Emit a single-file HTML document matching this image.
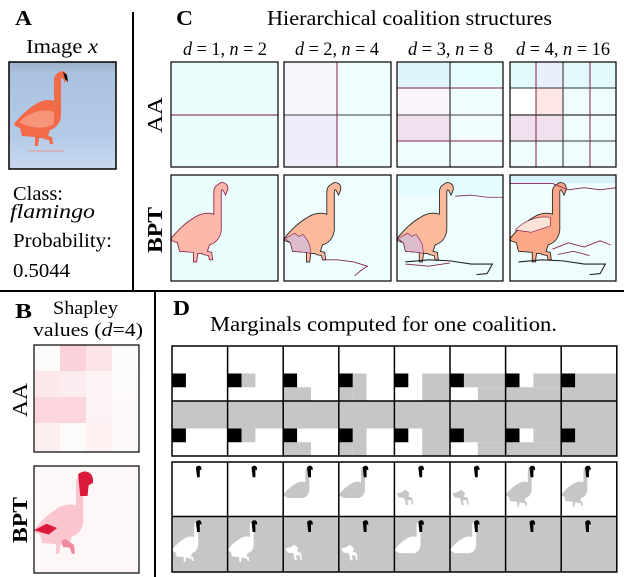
<!DOCTYPE html>
<html><head><meta charset="utf-8"><style>
html,body{margin:0;padding:0;background:#fff;}
svg{display:block;font-family:"Liberation Serif",serif;}
</style></head><body>
<svg width="624" height="577" viewBox="0 0 624 577" xmlns="http://www.w3.org/2000/svg">
<defs>
<path id="fl" d="M44,9 C48,5 54,8 53,14 L51,19 L49,15 C48,13 47,14 47,16 L47,52 C46,60 42,64 36,66 L34,72 L38,73 L39,80 L36,80 L35,76 L30,75 L29,74 L25,74 L24,82 L21,82 L21,73 L8,72 L6,64 L1,62 L0,60 C8,50 15,44 22,40 C28,36 35,35 40,37 L40,16 C40,12 42,10 44,9 Z"/>
<path id="body" d="M44,9 C48,5 52,8 50,12 L47,16 L47,52 C46,60 42,64 36,66 L20,66 L8,66 L6,64 L1,62 L0,60 C8,50 15,44 22,40 C28,36 35,35 40,37 L40,16 C40,12 42,10 44,9 Z"/>
<path id="legs" d="M4,58 L14,55 L20,51 L27,57 L25,63 L32,66 L34,78 L31,78 L30,70 L23,70 L25,79 L21,79 L18,66 L8,65 Z"/>
<path id="head" d="M43,10 C46,5 53,6 53,12 L53,15 L50,14 L50,28 L45,28 Z"/>
<linearGradient id="sky" x1="0" y1="0" x2="0" y2="1">
<stop offset="0" stop-color="#9fb0c8"/><stop offset="0.1" stop-color="#a9c2e0"/><stop offset="0.7" stop-color="#b4cbe8"/><stop offset="1" stop-color="#c9d8ee"/></linearGradient>
</defs>

<line x1="133" y1="12" x2="133" y2="290" stroke="#000" stroke-width="2"/>
<line x1="0" y1="291" x2="624" y2="291" stroke="#000" stroke-width="2"/>
<line x1="155" y1="292" x2="155" y2="577" stroke="#000" stroke-width="2"/>

<!-- Panel A -->
<text x="15" y="25" font-size="21" font-weight="bold" textLength="17" lengthAdjust="spacingAndGlyphs">A</text>
<text x="26" y="53" font-size="20" textLength="72" lengthAdjust="spacingAndGlyphs">Image <tspan font-style="italic">x</tspan></text>
<g transform="translate(9,62)">
<rect width="107" height="107" fill="url(#sky)"/>
<g transform="translate(5,2) scale(1.0)">
<use href="#fl" fill="#f26a48"/>
<path d="M5,58 C15,48 30,44 40,48 L40,60 C30,66 15,64 5,58Z" fill="#f8a890" opacity="0.7"/>
<path d="M49,8 L53,11 L54,18 L51,15Z" fill="#111"/>
<rect x="15" y="86" width="35" height="2" fill="#e0a0a0" opacity="0.6"/>
</g>
<rect width="107" height="107" fill="none" stroke="#000" stroke-width="1.5"/>
</g>
<text x="13" y="200" font-size="20" textLength="50" lengthAdjust="spacingAndGlyphs">Class:</text>
<text x="10" y="218" font-size="20" font-style="italic" textLength="85" lengthAdjust="spacingAndGlyphs">flamingo</text>
<text x="13" y="247" font-size="20" textLength="99" lengthAdjust="spacingAndGlyphs">Probability:</text>
<text x="13" y="277" font-size="20" textLength="57" lengthAdjust="spacingAndGlyphs">0.5044</text>

<!-- Panel C -->
<text x="176" y="25" font-size="21" font-weight="bold" textLength="17" lengthAdjust="spacingAndGlyphs">C</text>
<text x="267" y="25" font-size="21" textLength="285" lengthAdjust="spacingAndGlyphs">Hierarchical coalition structures</text>
<g font-size="19" font-style="italic">
<text x="183" y="55" textLength="84" lengthAdjust="spacingAndGlyphs">d<tspan font-style="normal"> = 1, </tspan>n<tspan font-style="normal"> = 2</tspan></text>
<text x="295" y="55" textLength="84" lengthAdjust="spacingAndGlyphs">d<tspan font-style="normal"> = 2, </tspan>n<tspan font-style="normal"> = 4</tspan></text>
<text x="408" y="55" textLength="85" lengthAdjust="spacingAndGlyphs">d<tspan font-style="normal"> = 3, </tspan>n<tspan font-style="normal"> = 8</tspan></text>
<text x="516" y="55" textLength="94" lengthAdjust="spacingAndGlyphs">d<tspan font-style="normal"> = 4, </tspan>n<tspan font-style="normal"> = 16</tspan></text>
</g>
<text transform="translate(162,133) rotate(-90)" font-size="21" textLength="36" lengthAdjust="spacingAndGlyphs">AA</text>
<text transform="translate(162,253) rotate(-90)" font-size="21" font-weight="bold" textLength="46" lengthAdjust="spacingAndGlyphs">BPT</text>

<g transform="translate(171,62)">
<rect width="107" height="105" fill="#ebfdfd"/>
<line x1="0" y1="53" x2="107" y2="53" stroke="#a06080" stroke-width="1.5"/>
<rect width="107" height="105" fill="none" stroke="#000" stroke-width="1.2"/>
</g>
<g transform="translate(284,62)">
<rect width="107" height="105" fill="#eefdfd"/>
<rect width="53" height="53" fill="#f6f7fc"/>
<rect y="53" width="53" height="52" fill="#f1ecfa"/>
<line x1="0" y1="53" x2="107" y2="53" stroke="#666" stroke-width="1.3"/>
<line x1="53" y1="0" x2="53" y2="105" stroke="#802050" stroke-width="1"/>
<rect width="107" height="105" fill="none" stroke="#000" stroke-width="1.2"/>
</g>
<g transform="translate(397,62)">
<rect width="106" height="105" fill="#f0fdfd"/>
<rect width="53" height="26" fill="#dff5fa"/>
<rect x="53" width="53" height="26" fill="#e6fcfd"/>
<rect y="26" width="53" height="27" fill="#fdf5fc"/>
<rect y="53" width="53" height="26" fill="#f3e0ee"/>
<line x1="0" y1="26" x2="106" y2="26" stroke="#802050"/>
<line x1="0" y1="79" x2="106" y2="79" stroke="#802050"/>
<line x1="0" y1="53" x2="106" y2="53" stroke="#666" stroke-width="1.3"/>
<line x1="53" y1="0" x2="53" y2="105" stroke="#444" stroke-width="1.3"/>
<rect width="106" height="105" fill="none" stroke="#000" stroke-width="1.2"/>
</g>
<g transform="translate(510,62)">
<rect width="106" height="105" fill="#f0fdfd"/>
<rect width="26" height="26" fill="#e3fafd"/>
<rect x="26" width="27" height="26" fill="#e8f0fb"/>
<rect x="53" width="27" height="26" fill="#e3fafd"/>
<rect x="80" width="26" height="26" fill="#e3fafd"/>
<rect y="26" width="26" height="27" fill="#ffffff"/>
<rect x="26" y="26" width="27" height="27" fill="#fde6e4"/>
<rect y="53" width="53" height="26" fill="#f3e0ee"/>
<line x1="0" y1="26" x2="106" y2="26" stroke="#333"/>
<line x1="0" y1="79" x2="106" y2="79" stroke="#333"/>
<line x1="0" y1="53" x2="106" y2="53" stroke="#333" stroke-width="1.2"/>
<line x1="26" y1="0" x2="26" y2="105" stroke="#802050"/>
<line x1="80" y1="0" x2="80" y2="105" stroke="#802050"/>
<line x1="53" y1="0" x2="53" y2="105" stroke="#555" stroke-width="1.3"/>
<rect width="106" height="105" fill="none" stroke="#000" stroke-width="1.2"/>
</g>

<g transform="translate(171,175)">
<rect width="107" height="106" fill="#e9fdfd"/>
<g transform="scale(1.07,1.06)"><use href="#fl" fill="#fcb8a8" stroke="#902050" stroke-width="0.8"/></g>
<rect width="107" height="106" fill="none" stroke="#000" stroke-width="1.2"/>
</g>
<g transform="translate(284,175)">
<rect width="107" height="106" fill="#eefdfd"/>
<g transform="scale(1.07,1.06)"><use href="#fl" fill="#fcb99c" stroke="#222" stroke-width="0.8"/>
<path d="M1,60 L10,55 L14,58 L18,56 L22,62 L24,66 L25,74 L21,73 L8,72 L6,64 Z" fill="#dcbccc" stroke="#802050" stroke-width="0.6"/>
<path d="M36,80 L50,80 L65,82 L78,86 L72,90 L66,95" fill="none" stroke="#802050" stroke-width="0.8"/></g>
<rect width="107" height="106" fill="none" stroke="#000" stroke-width="1.2"/>
</g>
<g transform="translate(397,175)">
<rect width="106" height="106" fill="#eefdfd"/>
<rect width="106" height="20" fill="#e3fcfd"/>
<g transform="scale(1.06)"><use href="#fl" fill="#fcb99c" stroke="#222" stroke-width="0.8"/>
<path d="M1,60 L10,55 L14,58 L18,56 L22,62 L24,66 L25,74 L21,73 L8,72 L6,64 Z" fill="#dcbccc" stroke="#802050" stroke-width="0.6"/>
<path d="M55,20 L70,19 L85,21 L100,21" fill="none" stroke="#802050" stroke-width="0.8"/>
<path d="M8,82 L30,80 L50,81 L70,84 L90,84 L85,93 L75,94" fill="none" stroke="#222" stroke-width="1"/>
<path d="M8,84 L30,86 L50,83" fill="none" stroke="#802050" stroke-width="0.8"/></g>
<rect width="106" height="106" fill="none" stroke="#000" stroke-width="1.2"/>
</g>
<g transform="translate(510,175)">
<rect width="106" height="106" fill="#f0fdfd"/>
<rect width="106" height="8" fill="#d8f2fb"/>
<g transform="scale(1.06)"><use href="#fl" fill="#fca888" stroke="#222" stroke-width="0.8"/>
<path d="M5,52 C12,44 25,38 38,40 L38,48 L20,54 Z" fill="#fde4d8" stroke="#802050" stroke-width="0.6"/>
<path d="M0,8 L40,8 L55,14 L70,12 L85,14 L100,12" fill="none" stroke="#802050" stroke-width="0.8"/>
<path d="M40,70 L55,64 L70,68 L85,62 L95,66 M45,75 L60,72 L75,76" fill="none" stroke="#802050" stroke-width="0.8"/>
<path d="M8,82 L30,80 L50,81 L70,84 L90,84 L85,93 L75,94" fill="none" stroke="#222" stroke-width="1"/></g>
<rect width="106" height="106" fill="none" stroke="#000" stroke-width="1.2"/>
</g>

<!-- Panel B -->
<text x="15" y="318" font-size="21" font-weight="bold" textLength="17" lengthAdjust="spacingAndGlyphs">B</text>
<text x="53" y="314" font-size="19" textLength="65" lengthAdjust="spacingAndGlyphs">Shapley</text>
<text x="33" y="336" font-size="19" textLength="110" lengthAdjust="spacingAndGlyphs">values (<tspan font-style="italic">d</tspan>=4)</text>
<text transform="translate(27,417) rotate(-90)" font-size="21" textLength="34" lengthAdjust="spacingAndGlyphs">AA</text>
<text transform="translate(27,543) rotate(-90)" font-size="21" font-weight="bold" textLength="46" lengthAdjust="spacingAndGlyphs">BPT</text>
<g transform="translate(34,345)">
<rect x="0" y="0" width="27" height="27" fill="#fdfafa"/>
<rect x="26" y="0" width="27" height="27" fill="#fbd2da"/>
<rect x="52" y="0" width="27" height="27" fill="#fde4e8"/>
<rect x="78" y="0" width="27" height="27" fill="#fdfcfc"/>
<rect x="0" y="26" width="27" height="27" fill="#fde9ec"/>
<rect x="26" y="26" width="27" height="27" fill="#fdecef"/>
<rect x="52" y="26" width="27" height="27" fill="#fdf4f5"/>
<rect x="78" y="26" width="27" height="27" fill="#fdfafa"/>
<rect x="0" y="52" width="53" height="27" fill="#fbd6dd"/>
<rect x="52" y="52" width="27" height="27" fill="#fdf3f4"/>
<rect x="78" y="52" width="27" height="27" fill="#fdf9f9"/>
<rect x="0" y="78" width="27" height="29" fill="#fdeef0"/>
<rect x="26" y="78" width="27" height="29" fill="#fdfafa"/>
<rect x="52" y="78" width="27" height="29" fill="#fdf1f2"/>
<rect x="78" y="78" width="27" height="29" fill="#fdf8f8"/>
<rect width="105" height="107" fill="none" stroke="#000" stroke-width="1.2"/>
</g>
<g transform="translate(34,466)">
<rect width="105" height="107" fill="#fdf7f7"/>
<g transform="scale(1.05,1.07)"><use href="#fl" fill="#f9c5cf"/>
<path d="M42,8 C48,2 58,6 56,16 L52,18 L51,28 L44,28 Z" fill="#d91a3a"/>
<path d="M0,60 L12,54 L22,58 L14,64 Z" fill="#d91a3a"/>
<path d="M30,68 L38,74 L39,82 L36,82 L34,76 L28,76 L26,70Z" fill="#f08aa0"/></g>
<rect width="105" height="107" fill="none" stroke="#000" stroke-width="1.2"/>
</g>

<!-- Panel D -->
<text x="173" y="315" font-size="21" font-weight="bold" textLength="17" lengthAdjust="spacingAndGlyphs">D</text>
<text x="210" y="331" font-size="21" textLength="347" lengthAdjust="spacingAndGlyphs">Marginals computed for one coalition.</text>

<g transform="translate(172,346)" fill="#c6c6c6">
 <g transform="translate(0,0)"><rect width="55.6" height="55" fill="#fff"/></g>
 <g transform="translate(55.6,0)"><rect width="55.6" height="55" fill="#fff"/><rect x="13.9" y="27.5" width="13.9" height="13.75"/></g>
 <g transform="translate(111.2,0)"><rect width="55.6" height="55" fill="#fff"/><rect x="0" y="41.25" width="27.8" height="13.75"/></g>
 <g transform="translate(166.8,0)"><rect width="55.6" height="55" fill="#fff"/><rect x="13.9" y="27.5" width="13.9" height="27.5"/><rect x="0" y="41.25" width="13.9" height="13.75"/></g>
 <g transform="translate(222.4,0)"><rect width="55.6" height="55" fill="#fff"/><rect x="27.8" y="27.5" width="27.8" height="27.5"/></g>
 <g transform="translate(278,0)"><rect width="55.6" height="55" fill="#fff"/><rect x="13.9" y="27.5" width="41.7" height="13.75"/><rect x="27.8" y="41.25" width="27.8" height="13.75"/></g>
 <g transform="translate(333.6,0)"><rect width="55.6" height="55" fill="#fff"/><rect x="27.8" y="27.5" width="27.8" height="13.75"/><rect x="0" y="41.25" width="55.6" height="13.75"/></g>
 <g transform="translate(389.2,0)"><rect width="55.6" height="55" fill="#fff"/><rect x="0" y="27.5" width="55.6" height="27.5"/></g>
</g>
<g transform="translate(172,401)" fill="#c6c6c6">
 <g transform="translate(0,0)"><rect width="55.6" height="55" fill="#fff"/><rect width="55.6" height="27.5"/></g>
 <g transform="translate(55.6,0)"><rect width="55.6" height="55" fill="#fff"/><rect width="55.6" height="27.5"/><rect x="13.9" y="27.5" width="13.9" height="13.75"/></g>
 <g transform="translate(111.2,0)"><rect width="55.6" height="55" fill="#fff"/><rect width="55.6" height="27.5"/><rect x="0" y="41.25" width="27.8" height="13.75"/></g>
 <g transform="translate(166.8,0)"><rect width="55.6" height="55" fill="#fff"/><rect width="55.6" height="27.5"/><rect x="13.9" y="27.5" width="13.9" height="27.5"/><rect x="0" y="41.25" width="13.9" height="13.75"/></g>
 <g transform="translate(222.4,0)"><rect width="55.6" height="55" fill="#fff"/><rect width="55.6" height="27.5"/><rect x="27.8" y="27.5" width="27.8" height="27.5"/></g>
 <g transform="translate(278,0)"><rect width="55.6" height="55" fill="#fff"/><rect width="55.6" height="27.5"/><rect x="13.9" y="27.5" width="41.7" height="13.75"/><rect x="27.8" y="41.25" width="27.8" height="13.75"/></g>
 <g transform="translate(333.6,0)"><rect width="55.6" height="55" fill="#fff"/><rect width="55.6" height="27.5"/><rect x="27.8" y="27.5" width="27.8" height="13.75"/><rect x="0" y="41.25" width="55.6" height="13.75"/></g>
 <g transform="translate(389.2,0)"><rect width="55.6" height="55" fill="#fff"/><rect width="55.6" height="55"/></g>
</g>
<g fill="#000">
<rect x="172" y="373.5" width="13.9" height="13.75"/><rect x="227.6" y="373.5" width="13.9" height="13.75"/><rect x="283.2" y="373.5" width="13.9" height="13.75"/><rect x="338.8" y="373.5" width="13.9" height="13.75"/><rect x="394.4" y="373.5" width="13.9" height="13.75"/><rect x="450" y="373.5" width="13.9" height="13.75"/><rect x="505.6" y="373.5" width="13.9" height="13.75"/><rect x="561.2" y="373.5" width="13.9" height="13.75"/>
<rect x="172" y="428.5" width="13.9" height="13.75"/><rect x="227.6" y="428.5" width="13.9" height="13.75"/><rect x="283.2" y="428.5" width="13.9" height="13.75"/><rect x="338.8" y="428.5" width="13.9" height="13.75"/><rect x="394.4" y="428.5" width="13.9" height="13.75"/><rect x="450" y="428.5" width="13.9" height="13.75"/><rect x="505.6" y="428.5" width="13.9" height="13.75"/><rect x="561.2" y="428.5" width="13.9" height="13.75"/>
</g>
<g stroke="#000" stroke-width="1.5" fill="none">
<rect x="172" y="346" width="444.8" height="110"/>
<line x1="172" y1="401" x2="616.8" y2="401"/>
<line x1="227.6" y1="346" x2="227.6" y2="456"/><line x1="283.2" y1="346" x2="283.2" y2="456"/><line x1="338.8" y1="346" x2="338.8" y2="456"/><line x1="394.4" y1="346" x2="394.4" y2="456"/><line x1="450" y1="346" x2="450" y2="456"/><line x1="505.6" y1="346" x2="505.6" y2="456"/><line x1="561.2" y1="346" x2="561.2" y2="456"/>
</g>

<g transform="translate(172,462)">
 <rect width="444.8" height="54.5" fill="#fff"/>
 <g transform="translate(0,0) scale(0.556,0.545)"><use href="#head"/></g>
 <g transform="translate(55.6,0) scale(0.556,0.545)"><use href="#head"/></g>
 <g transform="translate(111.2,0) scale(0.556,0.545)"><use href="#body" fill="#c6c6c6"/><use href="#head"/></g>
 <g transform="translate(166.8,0) scale(0.556,0.545)"><use href="#body" fill="#c6c6c6"/><use href="#head"/></g>
 <g transform="translate(222.4,0) scale(0.556,0.545)"><use href="#legs" fill="#c6c6c6"/><use href="#head"/></g>
 <g transform="translate(278,0) scale(0.556,0.545)"><use href="#legs" fill="#c6c6c6"/><use href="#head"/></g>
 <g transform="translate(333.6,0) scale(0.556,0.545)"><use href="#fl" fill="#c6c6c6"/><use href="#head"/></g>
 <g transform="translate(389.2,0) scale(0.556,0.545)"><use href="#fl" fill="#c6c6c6"/><use href="#head"/></g>
</g>
<g transform="translate(172,516.5)">
 <rect width="444.8" height="55.5" fill="#c6c6c6"/>
 <g transform="translate(0,0) scale(0.556,0.555)"><use href="#fl" fill="#fff"/><use href="#head"/></g>
 <g transform="translate(55.6,0) scale(0.556,0.555)"><use href="#fl" fill="#fff"/><use href="#head"/></g>
 <g transform="translate(111.2,0) scale(0.556,0.555)"><use href="#legs" fill="#fff"/><use href="#head"/></g>
 <g transform="translate(166.8,0) scale(0.556,0.555)"><use href="#legs" fill="#fff"/><use href="#head"/></g>
 <g transform="translate(222.4,0) scale(0.556,0.555)"><use href="#body" fill="#fff"/><use href="#head"/></g>
 <g transform="translate(278,0) scale(0.556,0.555)"><use href="#body" fill="#fff"/><use href="#head"/></g>
 <g transform="translate(333.6,0) scale(0.556,0.555)"><use href="#head"/></g>
 <g transform="translate(389.2,0) scale(0.556,0.555)"><use href="#head"/></g>
</g>
<g stroke="#000" stroke-width="1.5" fill="none">
<rect x="172" y="462" width="444.8" height="110"/>
<line x1="172" y1="516.5" x2="616.8" y2="516.5"/>
<line x1="227.6" y1="462" x2="227.6" y2="572"/><line x1="283.2" y1="462" x2="283.2" y2="572"/><line x1="338.8" y1="462" x2="338.8" y2="572"/><line x1="394.4" y1="462" x2="394.4" y2="572"/><line x1="450" y1="462" x2="450" y2="572"/><line x1="505.6" y1="462" x2="505.6" y2="572"/><line x1="561.2" y1="462" x2="561.2" y2="572"/>
</g>
</svg>
</body></html>
